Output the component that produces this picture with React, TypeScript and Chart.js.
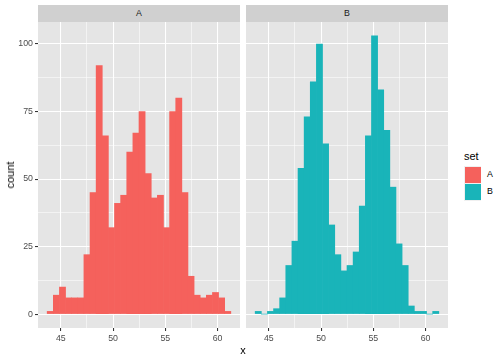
import React, { useEffect, useRef } from 'react';
import { Chart, registerables } from 'chart.js';

Chart.register(...registerables);

// Histogram bins (centres), shared by both facets
const binCenters = [
  43.983, 44.569, 45.155, 45.741, 46.327, 46.913, 47.499, 48.085, 48.671, 49.257,
  49.843, 50.429, 51.015, 51.601, 52.187, 52.773, 53.359, 53.945, 54.531, 55.117,
  55.703, 56.289, 56.875, 57.461, 58.047, 58.633, 59.219, 59.805, 60.391, 60.977,
];
const countsA = [1, 7, 10, 6, 6, 6, 22, 45, 92, 66, 32, 41, 44, 60, 67, 75, 52, 43, 44, 32, 75, 80, 45, 14, 7, 6, 7, 8, 6, 1];
const countsB = [1, 0, 1, 2, 6, 18, 27, 54, 73, 86, 100, 63, 33, 22, 16, 18, 23, 40, 66, 103, 83, 68, 47, 26, 18, 3, 1, 1, 0, 1];
const facetNames = ['A', 'B'];
const facetColors = ['#F5615C', '#19B4B9'];
const yMajor = [0, 25, 50, 75, 100];
const yMinor = [12.5, 37.5, 62.5, 87.5];
const xMajor = [45, 50, 55, 60];
const xMinor = [47.5, 52.5, 57.5];

const Y_MIN = -5.15;
const Y_MAX = 108.15;
const X_MIN = 42.811;
const X_MAX = 62.149;

const FONT = '"Liberation Sans", Arial, Helvetica, sans-serif';
const PANEL_BG = '#E5E5E5';
const STRIP_BG = '#D0D0D0';

const bgPlugin = {
  id: 'panelBg',
  beforeDraw(chart: any) {
    const { ctx, chartArea } = chart;
    ctx.save();
    ctx.fillStyle = PANEL_BG;
    ctx.fillRect(chartArea.left, chartArea.top, chartArea.right - chartArea.left, chartArea.bottom - chartArea.top);
    ctx.restore();
  },
};

function Panel(props: { counts: number[]; color: string; showY: boolean; left: number; width: number }) {
  const ref = useRef<HTMLCanvasElement>(null);
  const { counts, color, showY, left, width } = props;
  useEffect(() => {
    const xTicks = [...xMajor, ...xMinor].sort((a, b) => a - b);
    const yTicks = [...yMajor, ...yMinor].sort((a, b) => a - b);
    const chart = new Chart(ref.current as HTMLCanvasElement, {
      type: 'bar',
      data: {
        datasets: [
          {
            data: binCenters.map((x, i) => ({ x, y: counts[i] })),
            backgroundColor: color,
            borderWidth: 0,
            barPercentage: 1,
            categoryPercentage: 1,
          } as any,
        ],
      },
      options: {
        animation: false,
        responsive: false,
        maintainAspectRatio: false,
        layout: { padding: { top: 22, left: 0, right: 0, bottom: 0 } },
        plugins: { legend: { display: false }, tooltip: { enabled: false } },
        scales: {
          x: {
            type: 'linear',
            min: X_MIN,
            max: X_MAX,
            bounds: 'data',
            offset: false,
            afterBuildTicks: (s: any) => {
              s.ticks = xTicks.map((v) => ({ value: v }));
            },
            afterFit: (s: any) => {
              s.height = 32;
            },
            ticks: {
              callback: (v: any) => (xMajor.includes(Number(v)) ? String(v) : ''),
              color: '#4D4D4D',
              font: { family: FONT, size: 8.8 },
              padding: 2,
              maxRotation: 0,
              autoSkip: false,
            },
            grid: {
              offset: false,
              color: '#FFFFFF',
              lineWidth: (c: any) => (xMajor.includes(c.tick?.value) ? 1.07 : 0.53),
              tickLength: 3,
              tickColor: (c: any) => (xMajor.includes(c.tick?.value) ? '#333333' : 'rgba(0,0,0,0)'),
              tickWidth: 1.07,
            },
            border: { display: false },
          } as any,
          y: {
            type: 'linear',
            min: Y_MIN,
            max: Y_MAX,
            bounds: 'data',
            afterBuildTicks: (s: any) => {
              s.ticks = yTicks.map((v) => ({ value: v }));
            },
            afterFit: (s: any) => {
              s.width = showY ? 38 : 0;
            },
            ticks: {
              display: showY,
              callback: (v: any) => (yMajor.includes(Number(v)) ? String(v) : ''),
              color: '#4D4D4D',
              font: { family: FONT, size: 8.8 },
              padding: 2,
              autoSkip: false,
            },
            grid: {
              color: '#FFFFFF',
              lineWidth: (c: any) => (yMajor.includes(c.tick?.value) ? 1.07 : 0.53),
              drawTicks: showY,
              tickLength: 3,
              tickColor: (c: any) => (yMajor.includes(c.tick?.value) ? '#333333' : 'rgba(0,0,0,0)'),
              tickWidth: 1.07,
            },
            border: { display: false },
          } as any,
        },
      },
      plugins: [bgPlugin],
    });
    return () => chart.destroy();
  }, []);
  return (
    <canvas
      ref={ref}
      width={width}
      height={360}
      style={{ position: 'absolute', left, top: 0, width, height: 360 }}
    />
  );
}

const txt: React.CSSProperties = { position: 'absolute', fontFamily: FONT, whiteSpace: 'nowrap' };

export default function App() {
  return (
    <div style={{ position: 'absolute', left: 0, top: 0, width: 504, height: 360, background: '#FFFFFF', overflow: 'hidden' }}>
      <Panel counts={countsA} color={facetColors[0]} showY={true} left={0} width={240} />
      <Panel counts={countsB} color={facetColors[1]} showY={false} left={246} width={202} />
      {/* facet strips */}
      {facetNames.map((n, i) => (
        <div
          key={n}
          style={{
            ...txt,
            left: i === 0 ? 38 : 246,
            top: 5,
            width: 202,
            height: 17,
            background: STRIP_BG,
            color: '#1A1A1A',
            fontSize: 8.8,
            lineHeight: '17px',
            textAlign: 'center',
          }}
        >
          {n}
        </div>
      ))}
      {/* axis titles */}
      <div style={{ ...txt, left: 193, width: 100, top: 343, fontSize: 11, lineHeight: '14px', textAlign: 'center', color: '#000' }}>x</div>
      <div
        style={{
          ...txt,
          left: 10,
          top: 175,
          fontSize: 11,
          lineHeight: '14px',
          color: '#000',
          transform: 'translate(-50%, -50%) rotate(-90deg)',
        }}
      >
        count
      </div>
      {/* legend */}
      <div style={{ ...txt, left: 464, top: 149, fontSize: 11, lineHeight: '14px', color: '#000' }}>set</div>
      {facetNames.map((n, i) => (
        <React.Fragment key={n}>
          <div
            style={{
              position: 'absolute',
              left: 464,
              top: 166 + i * 17.3,
              width: 17.3,
              height: 17.3,
              background: '#F0F0F0',
              boxSizing: 'border-box',
              padding: 0.6,
            }}
          >
            <div style={{ width: '100%', height: '100%', background: facetColors[i] }} />
          </div>
          <div style={{ ...txt, left: 487, top: 168 + i * 17.3, fontSize: 8.8, lineHeight: '13px', color: '#000' }}>{n}</div>
        </React.Fragment>
      ))}
    </div>
  );
}
